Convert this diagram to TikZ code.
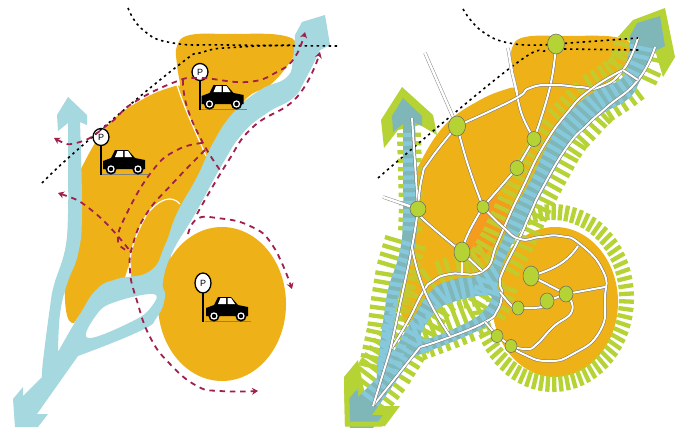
\documentclass[tikz,border=0pt]{standalone}
\usepackage{fontspec}
\setmainfont{Liberation Sans}
\usetikzlibrary{decorations.pathreplacing,arrows.meta,calc,shapes.geometric}
\definecolor{orng}{HTML}{EEB218}
\definecolor{orngb}{HTML}{F59C1E}
\definecolor{riv}{HTML}{A6D8E0}
\definecolor{rivd}{HTML}{7FB7B8}
\definecolor{stripe}{HTML}{86C8DC}
\definecolor{grn}{HTML}{B5D334}
\definecolor{crim}{HTML}{A11F4C}
\pgfdeclarelayer{art}\pgfdeclarelayer{roadlayer}
\pgfsetlayers{art,roadlayer,main}
\newcommand{\RiverOutline}{plot[smooth,tension=.8] coordinates {(295,35)(293,57)(287,77)(260,90)(233,113)(213,143)(197,177)(177,213)(165,245)(150,271)(117,279)(97,289)(80,314)(58,352)}
 -- plot[smooth,tension=.7] coordinates {(58,352)(60,314)(67,284)(78,254)(82,214)(80,122)}
 -- (87,125) -- (87,115) -- (68,97) -- (57,115) -- (58,131) -- (68,123)
 -- plot[smooth,tension=.7] coordinates {(68,123)(68,160)(68,214)(65,250)(54,285)(50,307)(43,361)(42,377)}
 -- (23,396) -- (23,387) -- (13,399) -- (15,427) -- (38,427) -- (48,414) -- (37,414) -- (78,356)
 -- plot[smooth,tension=.8] coordinates {(78,356)(140,331)(157,317)(165,297)(163,281)(173,251)(195,214)(223,163)(243,133)(267,113)(293,98)(305,80)(320,50)}
 -- (330,45) -- (325,15) -- (302,22) -- cycle
 plot[smooth cycle,tension=.7] coordinates {(115,302)(97,314)(88,338)(133,321)(152,306)(153,294)}}
\newcommand{\OrangeOutline}{plot[smooth cycle,tension=.7] coordinates {(180,86)(177,65)(177,46)(190,35)(230,34)(280,35)(297,45)(290,62)(270,85)(245,100)(215,145)(190,200)(172,250)(165,280)(120,290)(85,310)(72,323)(65,300)(67,240)(75,190)(84,163)(110,123)(145,98)(175,86)}}
\newcommand{\TickSpines}[3]{%
 \draw[#1,decorate,decoration={ticks,segment length=8.5pt,amplitude=#2pt}] plot coordinates {(640,48)(637,62)(631,75)(615,87)(598,98)(587,108)(577,119)(565,132)(555,147)(544,167)(533,187)(520,214)(508,240)(492,268)};
 \draw[#1,decorate,decoration={ticks,segment length=8.5pt,amplitude=12pt}] plot coordinates {(409,135)(410,170)(411,205)(410,235)};
 \draw[#1,decorate,decoration={ticks,segment length=8.5pt,amplitude=#3pt}] plot coordinates {(405,243)(397,270)(392,300)(388,330)(378,375)};
 \draw[#1,decorate,decoration={ticks,segment length=8.5pt,amplitude=#2pt}] plot coordinates {(492,268)(481,275)(470,280)(455,283)(440,288)(430,296)(423,307)(414,323)(405,340)(395,356)(385,372)(362,402)};
 \draw[#1,decorate,decoration={ticks,segment length=8.5pt,amplitude=#3pt}] plot coordinates {(497,285)(492,300)(485,312)(468,321)(450,328)(418,340)};
}
\newcommand{\RingTicks}[1]{%
 \begin{scope}[shift={(553,298)}]
 \foreach \a in {-115,-109.9,...,172}{\draw[#1] (\a:66 and 78) -- (\a:81 and 94);}
 \end{scope}}
\newcommand{\ParkSign}[7]{% name, sign x, sign y, pole bottom, car x, car y, ry
 \draw[line width=1.5pt,black] (#2,#3) -- (#2,#4);
 \node[signdisc,minimum height=#7pt] (#1) at (#2,#3) {P};
 \begin{scope}[shift={(#5,#6)}]
 \draw[gray,line width=.5pt] (-1,25) -- (45,25);
 \fill[black] (8,9) -- (12,1) -- (25,1) -- (32,9) -- (42,11) -- (42,20) -- (0,20) -- (0,12) -- cycle;
 \fill[white] (12,8) -- (14.5,2) -- (20,2) -- (20,8) -- cycle (21.5,8) -- (21.5,2) -- (25,2) -- (29,8) -- cycle;
 \foreach \w in {8,35}{\fill[black] (\w,20) circle (5.6); \fill[white] (\w,20) circle (3.7); \fill[black] (\w,20) circle (2.2);}
 \end{scope}}
\tikzset{
 blackdash/.style={black,line width=1.6pt,dash pattern=on 2.4pt off 3.6pt},
 reddash/.style={crim,line width=1.8pt,dash pattern=on 5.5pt off 4.8pt},
 redtip/.style={-{Stealth[length=6pt,width=7pt]}},
 redtipb/.style={{Stealth[length=6pt,width=7pt]}-},
 signdisc/.style={ellipse,draw=black,line width=1.3pt,fill=white,inner sep=0pt,minimum width=16pt,font=\fontsize{9}{9}\selectfont},
 gtick/.style={grn,line width=4.3pt},
 otick/.style={orng,line width=4.6pt,opacity=.25},
 btick/.style={stripe,line width=4.3pt},
 road/.style={draw=black!55,double=white,double distance=2pt,line width=.5pt,line join=round},
 stub/.style={draw=black!45,double=white,double distance=2.4pt,line width=.5pt},
 junc/.style={ellipse,draw=black!60,line width=.5pt,fill=grn,inner sep=0pt},
}
\begin{document}
\begin{tikzpicture}[x=1pt,y=-1pt]
\useasboundingbox (0,0) rectangle (685,428);
% ---------- left panel
\begin{pgfonlayer}{art}
\fill[white] (0,0) rectangle (685,428);
\fill[orng] \OrangeOutline;
\fill[orng] (222,304) ellipse [x radius=64,y radius=77];
\fill[white] (124,281) -- (128,268) -- (131,262) -- (131,281) -- cycle;
\draw[white,line width=1.2pt] (177,85) .. controls (185,110) and (195,130) .. (206,156);
\draw[white,line width=1.2pt] (180,204) .. controls (172,195) and (160,198) .. (147,214) .. controls (135,235) and (128,255) .. (130,272);
\fill[riv,even odd rule] \RiverOutline;
\end{pgfonlayer}
\ParkSign{signa}{200}{72}{110}{201.5}{84}{17}
\ParkSign{signb}{101}{137}{175}{103}{149}{17}
\ParkSign{signc}{203}{283}{322}{206}{296}{20}
\draw[blackdash] plot[smooth,tension=.8] coordinates {(128,8)(143,30)(173,43)(230,45)(337,46)};
\draw[blackdash] plot[smooth,tension=.8] coordinates {(42,183)(83,145)(175,68)(203,52)(240,47)(293,45)};
\draw[reddash,{Stealth[length=6pt,width=7pt]}-{Stealth[length=6pt,width=7pt]}] plot[smooth,tension=.8] coordinates {(54,138)(80,142)(110,123)(133,103)(175,82)(200,78)(247,82)(277,72)(295,57)(305,32)};
\draw[reddash] plot[smooth,tension=.8] coordinates {(183,80)(187,107)(203,143)(220,170)};
\draw[reddash] plot[smooth,tension=.8] coordinates {(202,143)(177,150)(153,170)(127,213)(118,241)(130,251)};
\draw[reddash,redtip] plot[smooth,tension=.8] coordinates {(205,150)(173,183)(147,213)(133,244)(130,271)(137,301)(150,337)(170,364)(197,386)(220,391)(258,391)};
\draw[reddash,redtipb] plot[smooth,tension=.8] coordinates {(58,193)(95,213)(130,251)};
\draw[reddash,redtip] plot[smooth,tension=.8] coordinates {(197,214)(227,163)(253,127)(297,97)(320,52)};
\draw[reddash,redtip] plot[smooth,tension=.8] coordinates {(188,234)(197,219)(217,218)(250,226)(273,246)(292,289)};
% ---------- right panel: nodes first, art and roads on lower layers
\node[junc,minimum width=17pt,minimum height=20pt] (n1) at (556,44) {};
\node[junc,minimum width=17pt,minimum height=20pt] (n2) at (457,126) {};
\node[junc,minimum width=14pt,minimum height=15pt] (n3) at (534,139) {};
\node[junc,minimum width=14pt,minimum height=15pt] (n4) at (517,168) {};
\node[junc,minimum width=12pt,minimum height=13pt] (n5) at (483,207) {};
\node[junc,minimum width=16pt,minimum height=16pt] (n6) at (418,209) {};
\node[junc,minimum width=16pt,minimum height=20pt] (n7) at (462,252) {};
\node[junc,minimum width=16pt,minimum height=20pt] (n8) at (531,276) {};
\node[junc,minimum width=14pt,minimum height=16pt] (n9) at (566,294) {};
\node[junc,minimum width=14pt,minimum height=16pt] (n10) at (547,301) {};
\node[junc,minimum width=12pt,minimum height=14pt] (n11) at (518,308) {};
\node[junc,minimum width=12pt,minimum height=13pt] (n12) at (497,336) {};
\node[junc,minimum width=12pt,minimum height=13pt] (n13) at (511,346) {};
\coordinate (s1) at (508,48);
\coordinate (s2) at (425,53);
\coordinate (s3) at (383,197);
\coordinate (top) at (638,38);
\coordinate (topr) at (655,47);
\coordinate (low) at (373,406);
\coordinate (fork) at (390,351);
\begin{pgfonlayer}{art}
\fill[orng,shift={(335,2)}] \OrangeOutline;
\fill[orng] (555,302) ellipse [x radius=63,y radius=75];
\fill[orngb] plot[smooth cycle,tension=.8] coordinates {(478,216)(470,235)(468,250)(478,258)(497,240)(510,210)(505,197)(490,198)};
% green heads
\fill[grn] (618,37) -- (633,20) -- (665,8) -- (675,57) -- (663,77) -- (655,50) -- cycle;
\fill[grn] (402,87) -- (381,120) -- (384,148) -- (398,130) -- (420,125) -- (437,135) -- (433,115) -- cycle;
\fill[grn] (358,360) -- (344,377) -- (345,426) -- (385,426) -- (400,406) -- (383,406) -- (365,395) -- cycle;
\TickSpines{gtick}{27}{21}
\RingTicks{gtick}
\begin{scope}
\clip[shift={(335,2)}] \OrangeOutline;
\TickSpines{otick}{27}{21}
\RingTicks{otick}
\end{scope}
\begin{scope}
\clip (555,302) ellipse [x radius=63,y radius=75];
\RingTicks{otick}
\TickSpines{otick}{27}{21}
\end{scope}
\fill[rivd,even odd rule,shift={(335,1)}] \RiverOutline;
\begin{scope}[even odd rule]
\clip[shift={(335,1)}] \RiverOutline;
\TickSpines{btick}{27}{21}
\end{scope}
\draw[grn,line width=5pt] (346.5,384) -- (347.5,424) -- (382,424);
\end{pgfonlayer}
\begin{pgfonlayer}{roadlayer}
\draw[blackdash] plot[smooth,tension=.8] coordinates {(463,9)(483,32)(515,44)(n1)};
\draw[blackdash] plot[smooth,tension=.8] coordinates {(378,178)(510,68)(547,50)(n1)};
\draw[stub] (s1) -- (512,72) -- (517,93);
\draw[stub] (s2) -- (n2);
\draw[stub] (s3) -- (n6);
\draw[road] plot[smooth,tension=.8] coordinates {(517,93)(522,115)(n3)};
\draw[road] plot[smooth,tension=.8] coordinates {(n1)(550,87)(n3)};
\draw[road] (n3) -- (n4) -- (n5);
\draw[road] plot[smooth,tension=.9] coordinates {(n2)(513,100)(530,88)(553,85)(580,87)(600,87)(623,70)(top)};
\draw[road] plot[smooth,tension=.9] coordinates {(623,70)(590,90)(567,113)(543,147)(523,187)(510,214)(497,244)(483,271)(450,274)(433,281)(423,292)(408,321)(fork)};
\draw[road] plot[smooth,tension=.9] coordinates {(topr)(638,80)(607,107)(587,125)(567,147)(543,187)(530,214)(520,237)(503,271)(500,284)(502,294)(497,311)(485,322)(450,337)(420,347)};
\draw[road] (420,347) -- (low);
\draw[road] (fork) -- (low);
\draw[road] (623,70) -- (638,80);
\draw[road] plot[smooth,tension=.9] coordinates {(fork)(401,300)(412,247)(n6)};
\draw[road] (n6) -- (412,118);
\draw[road] plot[smooth,tension=.9] coordinates {(n2)(430,160)(422,177)(n6)};
\draw[road] plot[smooth,tension=.8] coordinates {(n2)(468,165)(n5)};
\draw[road] plot[smooth,tension=.9] coordinates {(n5)(468,234)(n7)};
\draw[road] plot[smooth,tension=.8] coordinates {(n6)(423,219)(n7)};
\draw[road] (n7) -- (482,271);
\draw[white,line width=2.5pt] (462,262) -- (462,273);
\draw[road] plot[smooth,tension=.9] coordinates {(n5)(503,227)(520,239)(540,237)(560,236)(580,244)(603,271)(605,297)(600,331)(573,354)(547,361)(523,354)(n13)};
\draw[road] plot[smooth,tension=.9] coordinates {(n8)(560,264)(578,246)};
\draw[road] (n8) -- (n9);
\draw[road] (n9) -- (605,287);
\draw[road] (n9) -- (n10);
\draw[road] plot[smooth,tension=.9] coordinates {(n10)(542,307)(n11)};
\draw[road] plot[smooth,tension=.9] coordinates {(n11)(512,306)(500,292)};
\draw[road] plot[smooth,tension=.9] coordinates {(n9)(572,311)(553,327)(537,344)(527,349)(n13)};
\draw[road] (n12) -- (n13);
\draw[road] (n12) -- (485,322);
\draw[road] plot[smooth,tension=.9] coordinates {(412,247)(425,292)(450,336)};
\draw[blackdash] (n1) -- (top);
\draw[blackdash] (564,49) -- (640,50);
\end{pgfonlayer}
\end{tikzpicture}
\end{document}
